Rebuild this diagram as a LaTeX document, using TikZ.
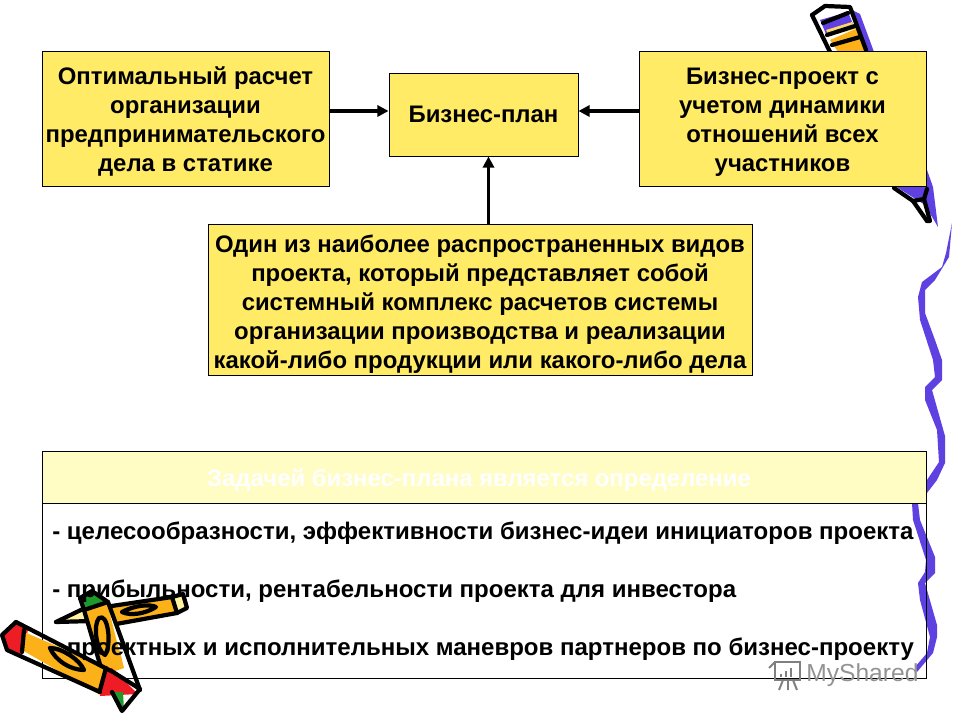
\documentclass[tikz,border=0pt]{standalone}
\usepackage{fontspec}
\setmainfont{Liberation Sans}
\usetikzlibrary{arrows.meta}
\definecolor{boxyellow}{HTML}{FFEB66}
\definecolor{headyellow}{HTML}{FFFDC4}
\definecolor{squigglecol}{HTML}{5F40E0}
\definecolor{pencilorange}{HTML}{FBB117}
\definecolor{eraserred}{HTML}{EE1C25}
\definecolor{tipgreen}{HTML}{1E9A2C}
\definecolor{woodpale}{HTML}{FFF3A0}
\newcommand{\topgap}[1]{\rule{0pt}{#1}}
\tikzset{
    box/.style={draw=black, line width=0.7pt, fill=boxyellow, align=center, inner sep=0pt,
        font=\fontsize{17pt}{20.6pt}\selectfont\bfseries},
    rowtext/.style={anchor=west, inner sep=0pt, font=\fontsize{17.08pt}{20pt}\selectfont\bfseries},
    link/.style={line width=2.2pt, -{Triangle[length=8pt,width=8pt]}},
    ink/.style={line width=3pt, line join=round, line cap=round},
}
\begin{document}
\begin{tikzpicture}[x=0.025cm,y=-0.025cm]
    \useasboundingbox (0,0) rectangle (960,720);

    % squiggle at the right edge
    \fill[squigglecol] (952,223) -- (949,257) -- (935,280) -- (925,290) -- (925,313) -- (935,340)
        -- (942,360) -- (942,380) -- (932,390) -- (945,436) -- (945,463) -- (937,480) -- (927,493)
        -- (927,480) -- (939,462) -- (937,430) -- (925,400) -- (925,387) -- (935,377) -- (933,360)
        -- (920,320) -- (918,297) -- (922,282) -- (942,267) -- (946,253) -- cycle;
    \fill[squigglecol] (912,503) -- (918,503) -- (920,520) -- (935,557) -- (935,573) -- (925,583)
        -- (937,625) -- (937,637) -- (933,653) -- (917,672) -- (915,667) -- (927,653) -- (930,637)
        -- (920,600) -- (918,583) -- (925,572) -- (926,560) -- (913,520) -- cycle;

    % pencil behind the right box
    \fill[pencilorange] (830,40) -- (858,28) -- (872,52) -- (838,52) -- cycle;
    \fill[squigglecol] (852,10) -- (860,14) -- (874,52) -- (866,52) -- cycle;
    \fill[squigglecol] (820,20) -- (848,12) -- (853,24) -- (826,34) -- cycle;
    \fill[woodpale!60!pencilorange] (826,30) -- (852,22) -- (856,29) -- (829,36) -- cycle;
    \draw[ink] (812,15) -- (825,6) -- (850,7) -- (866,50);
    \draw[ink] (812,15) -- (830,52);
    \draw[ink] (823,23) -- (848,13);
    \draw[ink] (827,35) -- (855,26);
    \draw[ink] (832,45) -- (860,37);
    \fill[squigglecol] (895,186) -- (927,186) -- (927,170) -- (933,187) -- (938,227) -- (925,205) -- cycle;
    \fill[white] (913,203) -- (922,205) -- (928,221) -- cycle;
    \draw[ink] (894,188) -- (913,201) -- (927,221);
    \draw[ink] (913,201) -- (924,199) -- (927,189);
    \draw[ink] (924,199) -- (930,221) -- (927,221);

    % boxes
    \node[box, minimum width=287*0.025cm, minimum height=135*0.025cm] (optimal) at (185.5,118.5)
        {\topgap{17.5pt}Оптимальный расчет\\организации\\предпринимательского\\дела в статике};
    \node[box, minimum width=189*0.025cm, minimum height=83*0.025cm] (plan) at (483.5,114.5) {Бизнес-план};
    \node[box, minimum width=287*0.025cm, minimum height=135*0.025cm] (project) at (782.5,118.5)
        {\topgap{17.5pt}Бизнес-проект с\\учетом динамики\\отношений всех\\участников};
    \node[box, minimum width=544*0.025cm, minimum height=151*0.025cm] (kind) at (480,299.5)
        {\topgap{19pt}Один из наиболее распространенных видов\\проекта, который представляет собой\\системный комплекс расчетов системы\\организации производства и реализации\\какой-либо продукции или какого-либо дела};

    \draw[link] ([yshift=7.5*0.025cm]optimal.east) -- ([yshift=3.5*0.025cm]plan.west);
    \draw[link] ([yshift=7.5*0.025cm]project.west) -- ([yshift=3.5*0.025cm]plan.east);
    \draw[link] ([xshift=8.5*0.025cm]kind.north) -- ([xshift=5*0.025cm]plan.south);

    % table at the bottom
    \node[box, fill=headyellow, text=white, minimum width=884*0.025cm, minimum height=52*0.025cm] (head) at (484,477)
        {\topgap{17.5pt}Задачей бизнес-плана является определение\hspace*{7pt}};
    \node[draw=black, line width=0.7pt, minimum width=884*0.025cm, minimum height=175*0.025cm, inner sep=0pt] (body) at (484,590.5) {};

    % pencils at the lower left
    \fill[pencilorange] (85,609) -- (172,598) -- (177,612) -- (117,623) -- cycle;
    \fill[woodpale] (172,596) -- (183,595) -- (186,607) -- (177,612) -- cycle;
    \fill[woodpale] (56,622) -- (82,612) -- (92,620) -- cycle;
    \draw[ink] (56,622) -- (85,608);
    \draw[ink] (105,607) -- (172,597) -- (183,594) -- (187,608) -- (177,613) -- (116,624);
    \draw[ink] (56,622) -- (92,621);
    \draw[ink] (172,597) -- (177,613);
    \draw[ink] (122,612) .. controls (135,605) and (150,604) .. (156,607) .. controls (145,614) and (130,616) .. (122,612);

    \fill[tipgreen] (80,597) -- (90,593) -- (104,597) -- (108,603) -- (85,610) -- cycle;
    \fill[pencilorange] (85,608) -- (108,602) -- (124,668) -- (103,675) -- cycle;
    \fill[white] (108,606) -- (113,610) -- (124,654) -- (119,650) -- cycle;
    \draw[ink] (80,598) -- (84,610) -- (104,678);
    \draw[ink] (84,610) -- (108,602);
    \draw[ink] (80,598) -- (92,591) -- (108,602) -- (140,690);
    \draw[ink] (99,618) .. controls (108,612) and (112,645) .. (105,655) .. controls (96,650) and (93,625) .. (99,618);

    \fill[eraserred] (2,635) -- (16,622) -- (28,630) -- (22,655) -- (8,650) -- cycle;
    \fill[pencilorange] (24,632) -- (113,670) -- (100,695) -- (22,650) -- cycle;
    \fill[eraserred] (104,670) -- (112,668) -- (138,694) -- (100,696) -- cycle;
    \fill[tipgreen] (113,692) -- (123,692) -- (124,710) -- (118,708) -- cycle;
    \draw[ink] (16,622) -- (2,635) -- (7,650) -- (100,692);
    \draw[ink] (16,622) -- (113,672) -- (140,689) -- (122,711) -- (112,692);
    \draw[ink] (24,630) -- (22,652);
    \draw[ink] (106,668) -- (100,690);
    \draw[ink] (50,648) .. controls (62,648) and (80,660) .. (84,670) .. controls (70,670) and (55,660) .. (50,648);

    % rows of the table
    \node[rowtext] (rowa) at (52,533) {- целесообразности, эффективности бизнес-идеи инициаторов проекта};
    \node[rowtext] (rowb) at (52,591) {- прибыльности, рентабельности проекта для инвестора};
    \node[rowtext] (rowc) at (52,649) {- проектных и исполнительных маневров партнеров по бизнес-проекту};

    % watermark
    \node[anchor=west, inner sep=0pt, text=gray!85, font=\fontsize{17.5pt}{20pt}\selectfont] (mark) at (806,675) {MyShared};
    \draw[gray, line width=1.4pt] (775,662) rectangle (800,680);
    \draw[gray, line width=1.4pt] (769,668) -- (775,662);
    \draw[gray, line width=1.4pt] (783,680) -- (779,690) (788,680) -- (788,690) (793,680) -- (797,690);
    \foreach \h/\xp in {3/781,6/786,9/791} {
        \draw[gray, line width=1.4pt] (\xp,677) -- (\xp,677-\h);
    }
\end{tikzpicture}
\end{document}
